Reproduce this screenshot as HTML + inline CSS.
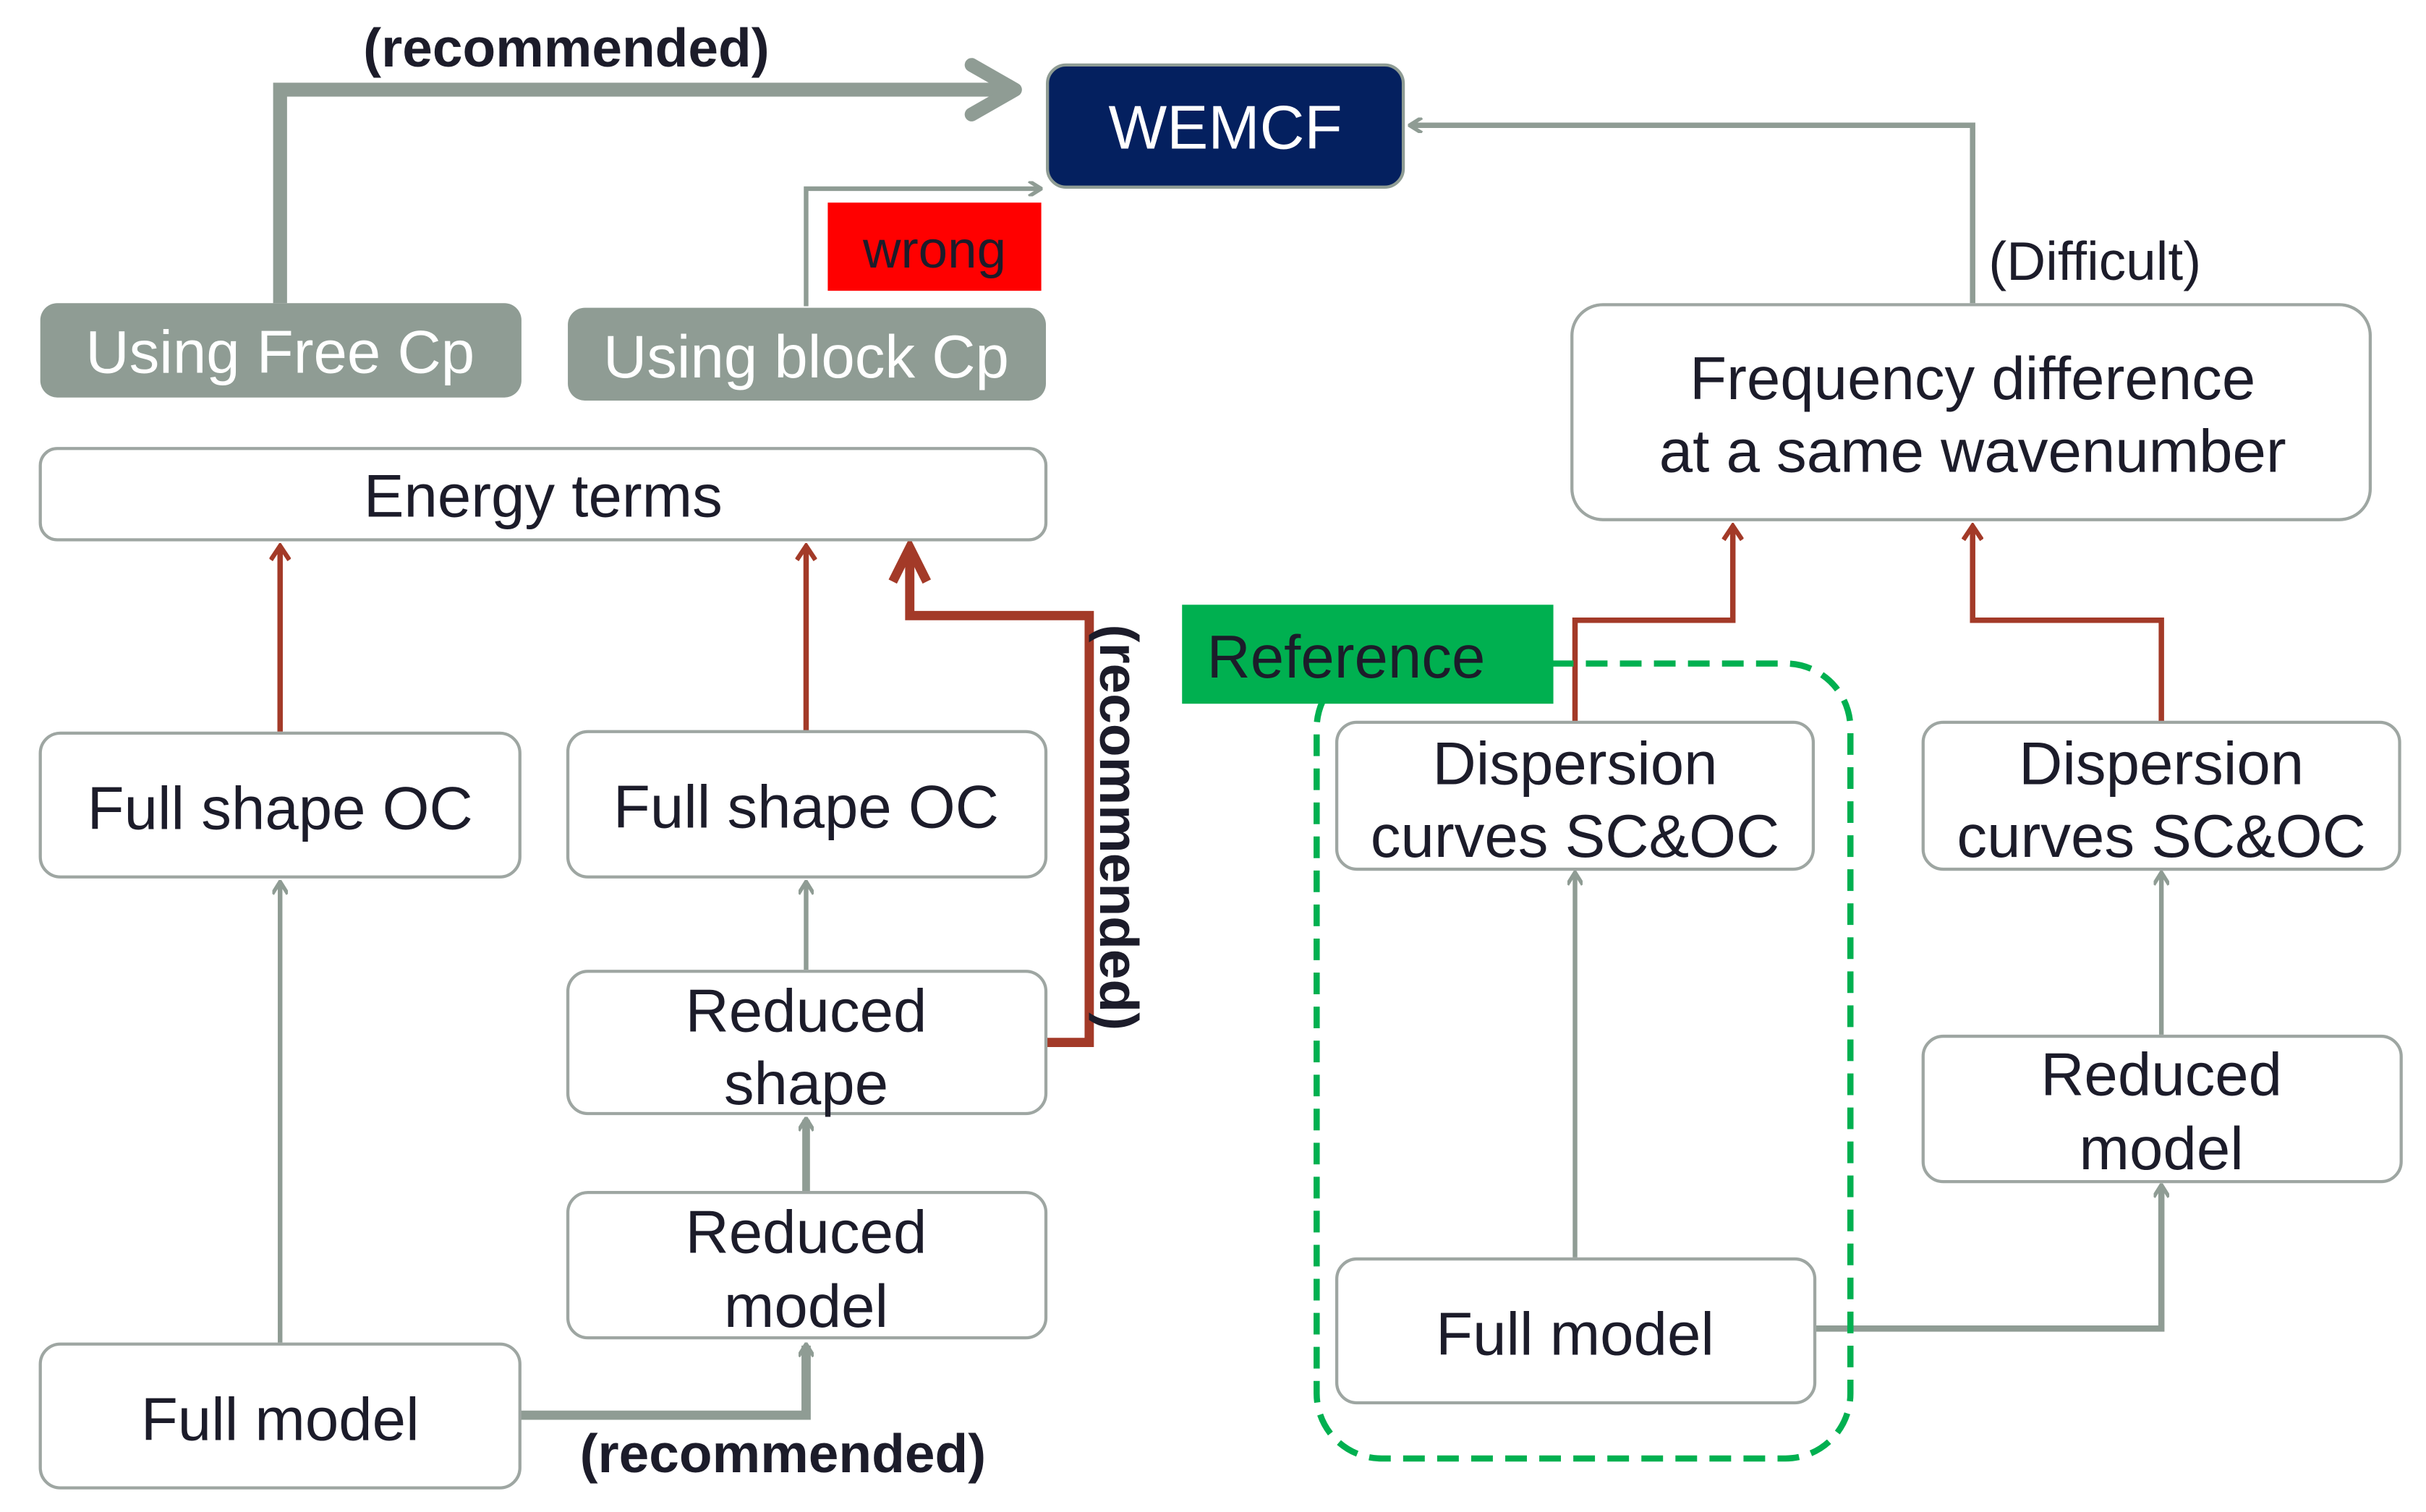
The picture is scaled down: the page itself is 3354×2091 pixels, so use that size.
<!DOCTYPE html>
<html><head><meta charset="utf-8"><style>
html,body{margin:0;padding:0;background:#fff;}
svg{display:block;}
text{font-family:"Liberation Sans",Arial,sans-serif;fill:#1c1c2a;}
</style></head><body>
<svg width="3354" height="2091" viewBox="0 0 1568 977.6" xmlns="http://www.w3.org/2000/svg">
<defs>
<marker id="ag" markerWidth="10" markerHeight="10" refX="8" refY="5" orient="auto" markerUnits="userSpaceOnUse"><path d="M1,0 L9,5 L1,10" fill="none" stroke="#8f9c94" stroke-width="2.5"/></marker>
<marker id="ar" markerWidth="12" markerHeight="14" refX="10" refY="7" orient="auto" markerUnits="userSpaceOnUse"><path d="M1,1 L10,7 L1,13" fill="none" stroke="#a33a28" stroke-width="3"/></marker>
</defs>
<g fill="none" stroke="#8f9c94">
<path d="M181,196 V58 H650" stroke-width="9"/>
<path d="M628,42 L656,58 L628,74" stroke-width="9" stroke-linecap="round" stroke-linejoin="round"/>
<path d="M521,198 V122 H672" stroke-width="3" marker-end="url(#ag)"/>
<path d="M1275,196 V81 H912" stroke-width="3.5" marker-end="url(#ag)"/>
<path d="M181,868 V571" stroke-width="3" marker-end="url(#ag)"/>
<path d="M521,627 V571" stroke-width="3" marker-end="url(#ag)"/>
<path d="M521,770 V724" stroke-width="5" marker-end="url(#ag)"/>
<path d="M336,915 H521 V870" stroke-width="6" marker-end="url(#ag)"/>
<path d="M1018,813 V565" stroke-width="3" marker-end="url(#ag)"/>
<path d="M1397,669 V565" stroke-width="3" marker-end="url(#ag)"/>
<path d="M1173,859 H1397 V767" stroke-width="4" marker-end="url(#ag)"/>
</g>
<g fill="none" stroke="#a33a28">
<path d="M181,473 V353" stroke-width="3.5" marker-end="url(#ar)"/>
<path d="M521,473 V353" stroke-width="3.5" marker-end="url(#ar)"/>
<path d="M676,674 H704 V398 H588 V356" stroke-width="6"/>
<path d="M577,376 L588,354 L599,376" stroke-width="6" stroke-linejoin="miter"/>
<path d="M1018,467 V401 H1120 V340" stroke-width="3.5" marker-end="url(#ar)"/>
<path d="M1397,467 V401 H1275 V340" stroke-width="3.5" marker-end="url(#ar)"/>
</g>
<text x="366" y="43" font-size="35" font-weight="bold" text-anchor="middle">(recommended)</text>
<rect x="677" y="42" width="230" height="79" rx="12" fill="#04205f" stroke="#8f9c94" stroke-width="2"/>
<text x="792" y="96" font-size="40" text-anchor="middle" style="fill:#fff">WEMCF</text>
<rect x="535" y="131" width="138" height="57" fill="#ff0000"/>
<text x="604" y="173" font-size="34" text-anchor="middle">wrong</text>
<rect x="26" y="196" width="311" height="61" rx="11" fill="#8f9c94"/>
<text x="181" y="241" font-size="39" text-anchor="middle" style="fill:#fff">Using Free Cp</text>
<rect x="367" y="199" width="309" height="60" rx="11" fill="#8f9c94"/>
<text x="521" y="244" font-size="39" text-anchor="middle" style="fill:#fff">Using block Cp</text>
<g fill="#fff" stroke="#9ea6a2" stroke-width="2">
<rect x="26" y="290" width="650" height="59" rx="11"/>
<rect x="26" y="474" width="310" height="93" rx="13"/>
<rect x="367" y="473" width="309" height="94" rx="13"/>
<rect x="367" y="628" width="309" height="92" rx="13"/>
<rect x="367" y="771" width="309" height="94" rx="13"/>
<rect x="26" y="869" width="310" height="93" rx="13"/>
<rect x="1016" y="197" width="516" height="139" rx="20"/>
<rect x="864" y="467" width="308" height="95" rx="13"/>
<rect x="1243" y="467" width="308" height="95" rx="13"/>
<rect x="1243" y="670" width="309" height="94" rx="13"/>
<rect x="864" y="814" width="309" height="93" rx="13"/>
</g>
<text x="351" y="334" font-size="39" text-anchor="middle">Energy terms</text>
<text x="181" y="536" font-size="39" text-anchor="middle">Full shape OC</text>
<text x="521" y="535" font-size="39" text-anchor="middle">Full shape OC</text>
<text x="521" y="667" font-size="39" text-anchor="middle">Reduced</text>
<text x="521" y="714" font-size="39" text-anchor="middle">shape</text>
<text x="521" y="810" font-size="39" text-anchor="middle">Reduced</text>
<text x="521" y="858" font-size="39" text-anchor="middle">model</text>
<text x="181" y="931" font-size="39" text-anchor="middle">Full model</text>
<text x="506" y="952" font-size="35" font-weight="bold" text-anchor="middle">(recommended)</text>
<text transform="translate(711,535) rotate(90)" font-size="35" font-weight="bold" text-anchor="middle">(recommended)</text>
<text x="1354" y="181" font-size="35" text-anchor="middle">(Difficult)</text>
<text x="1275" y="258" font-size="39" text-anchor="middle">Frequency difference</text>
<text x="1275" y="305" font-size="39" text-anchor="middle">at a same wavenumber</text>
<rect x="851" y="429" width="345" height="514" rx="42" fill="none" stroke="#00b050" stroke-width="4" stroke-dasharray="14,8"/>
<rect x="764" y="391" width="240" height="64" fill="#00b050"/>
<text x="870" y="438" font-size="39" text-anchor="middle">Reference</text>
<text x="1018" y="507" font-size="39" text-anchor="middle">Dispersion</text>
<text x="1018" y="554" font-size="39" text-anchor="middle">curves SC&amp;OC</text>
<text x="1397" y="507" font-size="39" text-anchor="middle">Dispersion</text>
<text x="1397" y="554" font-size="39" text-anchor="middle">curves SC&amp;OC</text>
<text x="1397" y="708" font-size="39" text-anchor="middle">Reduced</text>
<text x="1397" y="756" font-size="39" text-anchor="middle">model</text>
<text x="1018" y="876" font-size="39" text-anchor="middle">Full model</text>
</svg>
</body></html>
